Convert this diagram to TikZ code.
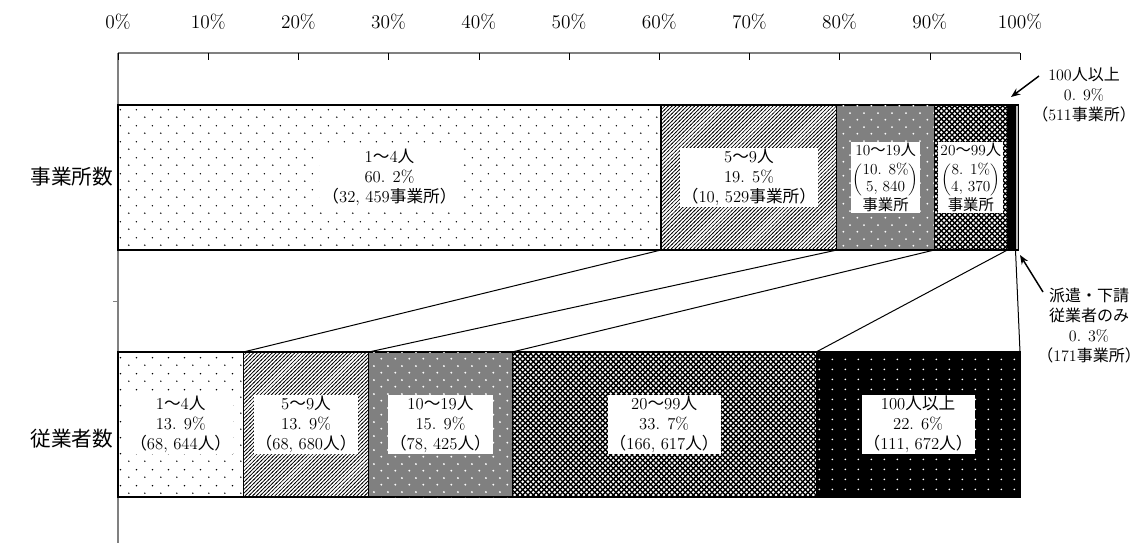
\documentclass[tikz,border=0pt]{standalone}
\usepackage{fontspec}
\newfontfamily\jpfont{Noto Sans CJK JP}
\usetikzlibrary{patterns,arrows.meta}
\newcommand\J[1]{{\jpfont #1}}
\pgfdeclarepatternformonly{sparsedots}{\pgfpointorigin}{\pgfqpoint{11.7pt}{11.6pt}}{\pgfqpoint{11.7pt}{11.6pt}}{%
  \pgfpathcircle{\pgfqpoint{2.9pt}{2.9pt}}{0.6pt}%
  \pgfpathcircle{\pgfqpoint{8.8pt}{8.7pt}}{0.6pt}%
  \pgfusepath{fill}}
\pgfdeclarepatternformonly{densehatch}{\pgfqpoint{-1pt}{-1pt}}{\pgfqpoint{4pt}{4pt}}{\pgfqpoint{2.8pt}{2.8pt}}{%
  \pgfsetlinewidth{0.5pt}%
  \pgfpathmoveto{\pgfqpoint{-0.5pt}{-0.5pt}}\pgfpathlineto{\pgfqpoint{3.3pt}{3.3pt}}%
  \pgfusepath{stroke}}
\pgfdeclarepatternformonly{graydots}{\pgfpointorigin}{\pgfqpoint{10.5pt}{10.5pt}}{\pgfqpoint{10.5pt}{10.5pt}}{%
  \pgfpathcircle{\pgfqpoint{2.6pt}{2.6pt}}{0.8pt}%
  \pgfpathcircle{\pgfqpoint{7.9pt}{7.9pt}}{0.8pt}%
  \pgfusepath{fill}}
\pgfdeclarepatternformonly{mesh}{\pgfqpoint{-1pt}{-1pt}}{\pgfqpoint{5pt}{5pt}}{\pgfqpoint{4pt}{4pt}}{%
  \pgfsetlinewidth{1pt}%
  \pgfpathmoveto{\pgfqpoint{-0.5pt}{-0.5pt}}\pgfpathlineto{\pgfqpoint{4.5pt}{4.5pt}}%
  \pgfpathmoveto{\pgfqpoint{-0.5pt}{4.5pt}}\pgfpathlineto{\pgfqpoint{4.5pt}{-0.5pt}}%
  \pgfusepath{stroke}}
\pgfdeclarepatternformonly{blackdots}{\pgfpointorigin}{\pgfqpoint{10pt}{7.5pt}}{\pgfqpoint{10pt}{7.5pt}}{%
  \pgfpathcircle{\pgfqpoint{5pt}{3.75pt}}{0.75pt}%
  \pgfusepath{fill}}
\tikzset{
  seg/.style={draw=black,line width=0.8pt,inner sep=0pt,outer sep=0pt,anchor=north west,minimum height=108.75pt},
  lbl/.style={fill=white,align=center,inner xsep=1.5pt,inner ysep=1pt,font=\fontsize{12.5}{15}\selectfont},
  small lbl/.style={lbl,font=\fontsize{11.5}{14}\selectfont},
  note/.style={align=center,inner sep=0pt,font=\fontsize{12}{15}\selectfont},
  pdots/.style={pattern=sparsedots},
  phatch/.style={pattern=densehatch},
  pgray/.style={fill=black!50,postaction={pattern=graydots,pattern color=white}},
  pmesh/.style={fill=white,postaction={pattern=mesh}},
  pblack/.style={fill=black,postaction={pattern=blackdots,pattern color=white}},
  plight/.style={fill=black!25},
  arr/.style={-{Stealth[length=7pt,width=5.5pt]},line width=1.1pt}
}
\renewcommand\arraystretch{0.9}
\begin{document}
\begin{tikzpicture}[x=0.75pt,y=-0.75pt]
\useasboundingbox (0,0) rectangle (1142,543);
\draw[gray,line width=1pt] (118,53) -- (1020,53) (118,53) -- (118,543);
\draw[gray] (113,301) -- (118,301);
\foreach \i in {0,...,10}{
  \draw (118+\i*90.2,53) -- (118+\i*90.2,60);
  \pgfmathtruncatemacro\pc{\i*10}
  \node[font=\fontsize{14.5}{17}\selectfont] (ax\i) at (118+\i*90.2,22) {\pc\%};
}
\node[font=\jpfont\fontsize{15.5}{18}\selectfont] (c1) at (72,177) {事業所数};
\node[font=\jpfont\fontsize{15.5}{18}\selectfont] (c2) at (72,439) {従業者数};
\foreach \nm/\a/\b/\pat in {t1/0/60.2/pdots,t2/60.2/79.7/phatch,t3/79.7/90.5/pgray,t4/90.5/98.6/pmesh,t5/98.6/99.5/pblack,t6/99.5/99.8/plight}
  \node[seg,\pat,minimum width={(\b-\a)*6.765pt}] (\nm) at ({118+\a*9.02},105) {};
\foreach \nm/\a/\b/\pat in {b1/0/13.9/pdots,b2/13.9/27.8/phatch,b3/27.8/43.7/pgray,b4/43.7/77.4/pmesh,b5/77.4/100/pblack}
  \node[seg,\pat,minimum width={(\b-\a)*6.765pt}] (\nm) at ({118+\a*9.02},352) {};
\foreach \k in {1,...,5}
  \draw[line width=0.75pt] (t\k.south east) -- (b\k.north east);
\node[lbl] (l1) at (t1) {1\J{～}4\J{人}\\60. 2\%\\\J{（}32, 459\J{事業所）}};
\node[lbl] (l2) at (t2) {5\J{～}9\J{人}\\19. 5\%\\\J{（}10, 529\J{事業所）}};
\node[small lbl] (l3) at (t3) {10\J{～}19\J{人}\\[4pt]$\left(\begin{tabular}{@{}c@{}}10. 8\%\\5, 840\end{tabular}\right)$\\\J{事業所}};
\node[small lbl] (l4) at (t4) {20\J{～}99\J{人}\\[4pt]$\left(\begin{tabular}{@{}c@{}}8. 1\%\\4, 370\end{tabular}\right)$\\\J{事業所}};
\node[lbl] (m1) at (b1) {1\J{～}4\J{人}\\13. 9\%\\\J{（}68, 644\J{人）}};
\node[lbl] (m2) at (b2) {5\J{～}9\J{人}\\13. 9\%\\\J{（}68, 680\J{人）}};
\node[lbl] (m3) at (b3) {10\J{～}19\J{人}\\15. 9\%\\\J{（}78, 425\J{人）}};
\node[lbl] (m4) at (b4) {20\J{～}99\J{人}\\33. 7\%\\\J{（}166, 617\J{人）}};
\node[lbl] (m5) at (b5) {100\J{人以上}\\22. 6\%\\\J{（}111, 672\J{人）}};
\node[note] (r1) at (1084,95) {100\J{人以上}\\0. 9\%\\\J{（}511\J{事業所）}};
\node[note] (r2) at (1089,326) {\J{派遣・下請}\\\J{従業者のみ}\\0. 3\%\\\J{（}171\J{事業所）}};
\coordinate (r1s) at (1039,76);
\coordinate (r1e) at (1011,97);
\coordinate (r2s) at (1043,292);
\coordinate (r2e) at (1020,255);
\draw[arr] (r1s) -- (r1e);
\draw[arr] (r2s) -- (r2e);
\end{tikzpicture}
\end{document}
